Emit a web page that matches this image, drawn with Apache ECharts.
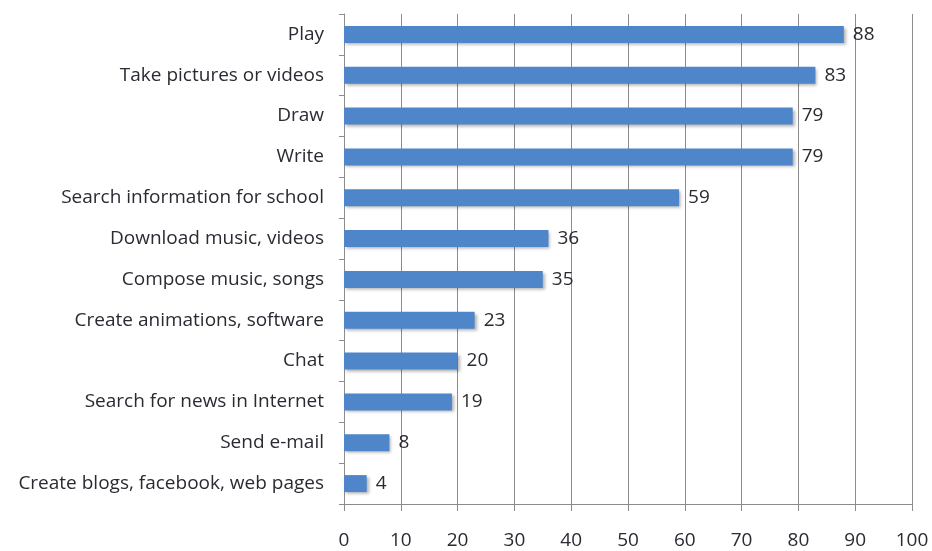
<!DOCTYPE html>
<html><head><meta charset="utf-8">
<script src="https://cdn.jsdelivr.net/npm/echarts@6/dist/echarts.min.js"></script>
<style>html,body{margin:0;padding:0;background:#fff}#c{width:932px;height:551px}</style>
</head><body><div id="c"></div>
<script>
const categories = ["Play","Take pictures or videos","Draw","Write","Search information for school","Download music, videos","Compose music, songs","Create animations, software","Chat","Search for news in Internet","Send e-mail","Create blogs, facebook, web pages"];
const values = [88,83,79,79,59,36,35,23,20,19,8,4];
const xTicks = [0,10,20,30,40,50,60,70,80,90,100];
const font = "'Open Sans', 'Noto Sans', sans-serif";
const chart = echarts.init(document.getElementById('c'));
chart.setOption({
  animation:false,
  grid:{left:344, right:20, top:14, bottom:47},
  xAxis:{type:'value', min:xTicks[0], max:xTicks[xTicks.length-1], interval:10,
    axisLine:{show:true, lineStyle:{color:'#8c8c8c', width:1}},
    axisTick:{show:true, length:7, lineStyle:{color:'#8c8c8c'}},
    axisLabel:{color:'#2a2a33', fontSize:19, fontFamily:font, margin:27},
    splitLine:{show:true, lineStyle:{color:'#8c8c8c', width:1}}},
  yAxis:{type:'category', data:categories.slice().reverse(), inverse:false,
    axisLine:{show:true, lineStyle:{color:'#8c8c8c', width:1}},
    axisTick:{show:true, length:5, lineStyle:{color:'#8c8c8c'}},
    axisLabel:{color:'#2a2a33', fontSize:19, fontFamily:font, margin:20, padding:[7,0,0,0]}},
  series:[{type:'bar', data:values.slice().reverse(), barWidth:17,
    itemStyle:{color:'#4f86c9',
      shadowColor:'rgba(0,0,0,0.3)', shadowBlur:3, shadowOffsetX:2, shadowOffsetY:2},
    label:{show:true, position:'right', distance:9, color:'#2a2a33', fontSize:19, fontFamily:font, padding:[6,0,0,0]}}]
});
</script></body></html>
